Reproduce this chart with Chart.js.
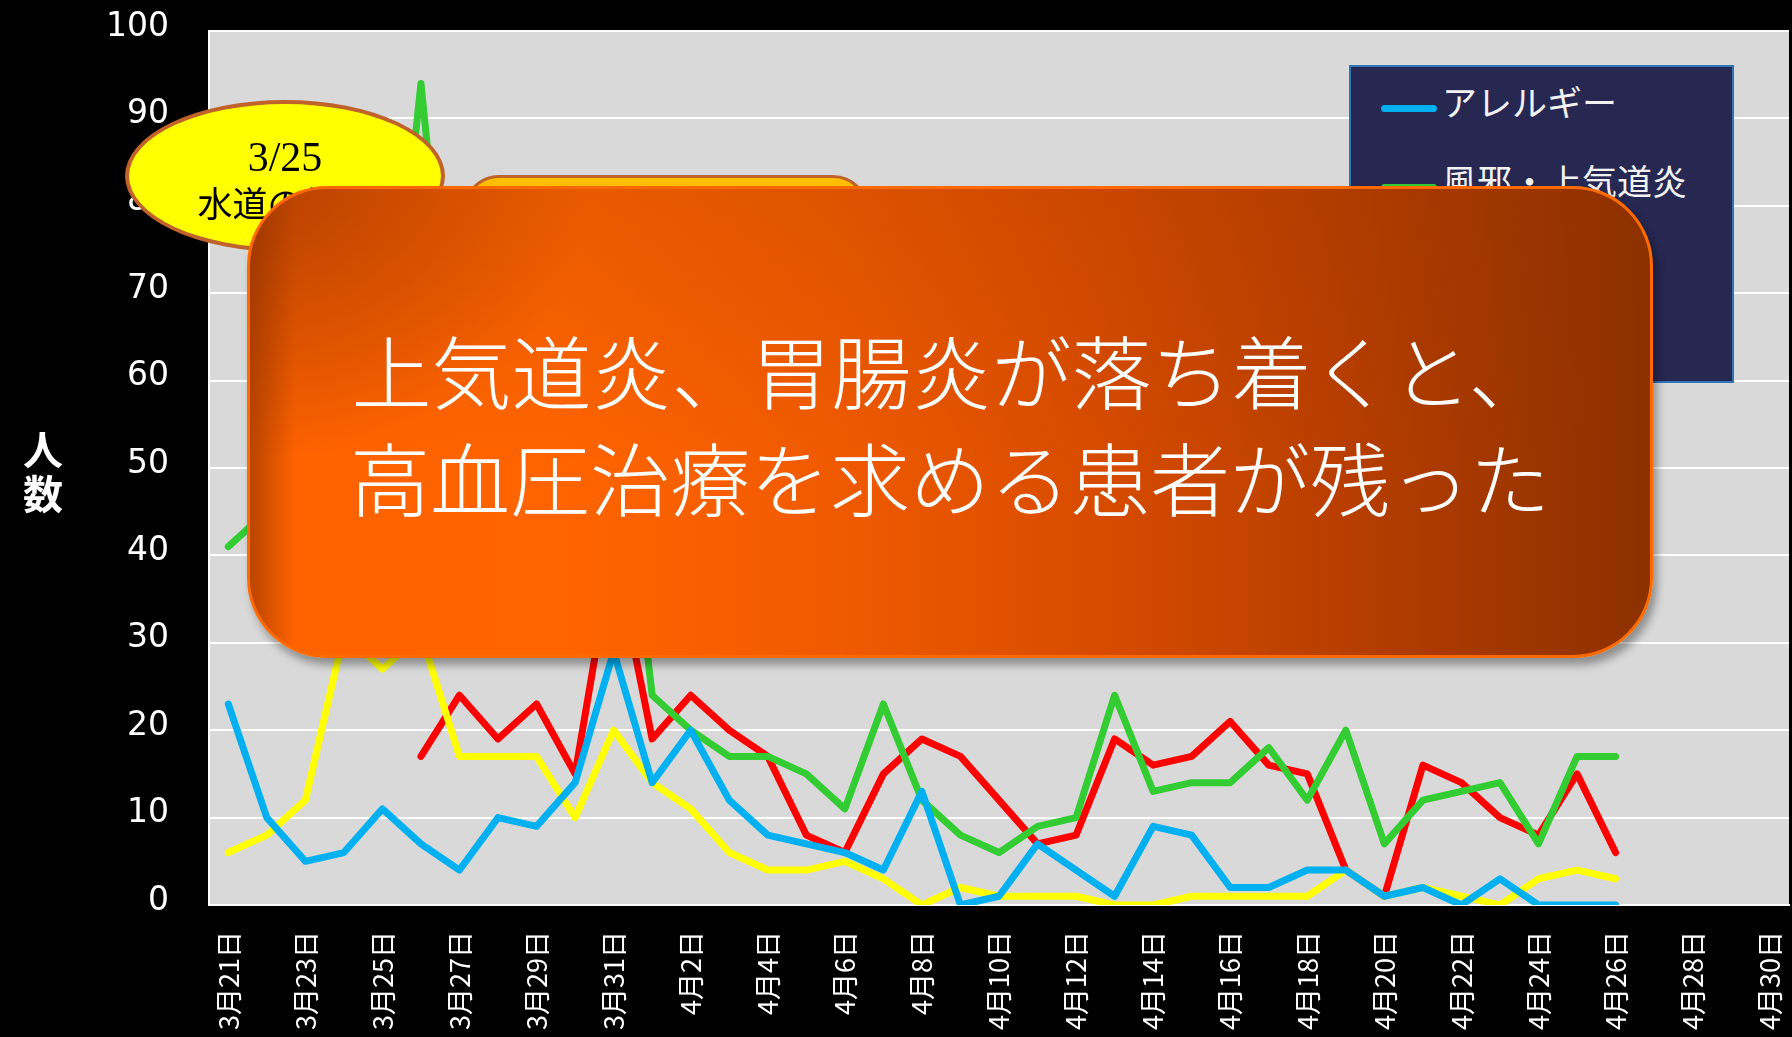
<!DOCTYPE html>
<html lang="ja">
<head>
<meta charset="utf-8">
<script src="https://cdn.jsdelivr.net/npm/chart.js"></script>
<style>
    html, body { margin: 0; padding: 0; background: #000; }
    #tela { position: relative; width: 1792px; height: 1037px; overflow: hidden; background: #000; }
    #meuGrafico { position: absolute; left: 0; top: 0; }

    .tituloY { position: absolute; left: 17px; top: 426px; width: 52px; color: #fff;
        font: bold 40px "Noto Sans CJK JP"; line-height: 44px; text-align: center; }

    #legenda { position: absolute; left: 1349px; top: 65px; width: 385px; height: 318px;
        box-sizing: border-box; background: #262852; border: 2px solid #2e75b6; }
    .item { position: absolute; left: 30px; height: 44px; color: #f2f2f2;
        font: 35px "Noto Sans CJK JP"; line-height: 44px; white-space: nowrap; }
    .item i { display: inline-block; width: 56px; height: 7px; border-radius: 4px;
        margin-right: 5px; vertical-align: middle; position: relative; top: 2px; }

    #balao { position: absolute; left: 125px; top: 100px; width: 320px; height: 152px;
        box-sizing: border-box; border: 4px solid #c0622b; border-radius: 50%; background: #ffff00; }
    #balao div { position: absolute; left: 0; width: 100%; text-align: center; color: #000; }
    #balao .data { top: 30px; font: 42px "Liberation Serif"; line-height: 46px; }
    #balao .texto { top: 78px; font: 35px "Noto Sans CJK JP"; line-height: 40px; }

    #caixaFundo { position: absolute; left: 463px; top: 175px; width: 406px; height: 200px;
        box-sizing: border-box; border: 3px solid #c0622b; border-radius: 36px;
        background: linear-gradient(#ffc000, #ff9000); }

    #caixa { position: absolute; left: 247px; top: 186px; width: 1406px; height: 472px;
        box-sizing: border-box; border: 3px solid #ff6a00; border-radius: 80px;
        box-shadow: 4px 7px 9px rgba(0,0,0,0.35);
        background:
            radial-gradient(ellipse 340px 270px at 0% 0%, rgba(140,45,0,0.55), rgba(140,45,0,0) 100%),
            linear-gradient(to right, rgba(120,40,0,0.5) 0px, rgba(120,40,0,0) 45px),
            linear-gradient(to bottom, rgba(140,50,0,0.18) 0%, rgba(140,50,0,0) 60%),
            linear-gradient(to right, #ff6200 0%, #ff6400 22%, #f05a00 42%, #d84c00 60%, #b83e00 78%, #8c3000 100%);
        display: flex; flex-direction: column; align-items: center; justify-content: center;
        color: #fff; font: 300 80px "Noto Sans CJK JP"; line-height: 107px; }
</style>
</head>
<body>
<div id="tela">
    <canvas id="meuGrafico" width="1792" height="1037"></canvas>
    <div class="tituloY">人<br>数</div>
    <div id="legenda"></div>
    <div id="balao"><div class="data">3/25</div><div class="texto">水道の復旧</div></div>
    <div id="caixaFundo"></div>
    <div id="caixa">
        <div>上気道炎、胃腸炎が落ち着くと、</div>
        <div>高血圧治療を求める患者が残った</div>
    </div>
</div>
<script>
// dias (3/21 ~ 4/30)
const dias = ['3月21日', '3月22日', '3月23日', '3月24日', '3月25日', '3月26日', '3月27日', '3月28日',
    '3月29日', '3月30日', '3月31日', '4月1日', '4月2日', '4月3日', '4月4日', '4月5日', '4月6日',
    '4月7日', '4月8日', '4月9日', '4月10日', '4月11日', '4月12日', '4月13日', '4月14日', '4月15日',
    '4月16日', '4月17日', '4月18日', '4月19日', '4月20日', '4月21日', '4月22日', '4月23日',
    '4月24日', '4月25日', '4月26日', '4月27日', '4月28日', '4月29日', '4月30日'];

// pacientes por dia
const alergia = [23, 10, 5, 6, 11, 7, 4, 10, 9, 14, 29, 14, 20, 12, 8, 7, 6, 4, 13, 0, 1, 7, 4, 1,
    9, 8, 2, 2, 4, 4, 1, 2, 0, 3, 0, 0, 0];
const resfriado = [41, 45, 50, 55, 52, 94, 50, 48, 45, 42, 62, 24, 20, 17, 17, 15, 11, 23, 12, 8, 6,
    9, 10, 24, 13, 14, 14, 18, 12, 20, 7, 12, 13, 14, 7, 17, 17];
const gastro = [6, 8, 12, 31, 27, 31, 17, 17, 17, 10, 20, 14, 11, 6, 4, 4, 5, 3, 0, 2, 1, 1, 1, 0,
    0, 1, 1, 1, 1, 4, 1, 2, 1, 0, 3, 4, 3];
const pressao = [null, null, null, null, null, 17, 24, 19, 23, 15, 41, 19, 24, 20, 17, 8, 6, 15, 19,
    17, 12, 7, 8, 19, 16, 17, 21, 16, 15, 4, 1, 16, 14, 10, 8, 15, 6];

const nomes = ['アレルギー', '風邪・上気道炎', '胃腸炎', '高血圧'];
const cores = ['#00b0f0', '#33cc33', '#ffff00', '#ff0000'];
const valores = [alergia, resfriado, gastro, pressao];

// legenda
const legenda = document.getElementById('legenda');
nomes.forEach((nome, i) => {
    const item = document.createElement('div');
    item.className = 'item';
    item.style.top = (12 + i * 79) + 'px';
    item.innerHTML = '<i style="background:' + cores[i] + '"></i>' + nome;
    legenda.appendChild(item);
});

// fundo cinza da area do grafico
const fundoPlot = {
    id: 'fundoPlot',
    beforeDraw(chart) {
        const { ctx, chartArea: a } = chart;
        ctx.save();
        ctx.fillStyle = '#d9d9d9';
        ctx.fillRect(a.left, a.top, a.right - a.left, a.bottom - a.top);
        ctx.restore();
    }
};

// tira o espaco extra que o Chart.js reserva para os rotulos
function semPadding(s) {
    s.paddingTop = 0;
    s.paddingBottom = 0;
    s.paddingLeft = 0;
    s.paddingRight = 0;
}

//Grafico
const ctx = document.getElementById('meuGrafico');
new Chart(ctx, {
    type: 'line',
    data: {
        labels: dias,
        datasets: valores.map((v, i) => ({
            label: nomes[i],
            data: v,
            borderColor: cores[i],
            backgroundColor: cores[i],
            borderWidth: 7,
            borderCapStyle: 'round',
            borderJoinStyle: 'round',
            pointRadius: 0,
            tension: 0
        }))
    },
    options: {
        responsive: false,
        animation: false,
        layout: { padding: { top: 31, right: 3, left: 0, bottom: 0 } },
        plugins: {
            legend: { display: false },
            tooltip: { enabled: false }
        },
        scales: {
            x: {
                offset: true,
                afterFit(s) { s.height = 132; semPadding(s); },
                grid: { display: false, drawTicks: false },
                border: { display: true, color: '#ffffff', width: 2 },
                ticks: {
                    autoSkip: false,
                    minRotation: 90,
                    maxRotation: 90,
                    padding: 26,
                    color: '#ffffff',
                    font: { family: 'Noto Sans CJK JP', size: 27 },
                    callback: function (val, idx) {
                        return idx % 2 === 0 ? this.getLabelForValue(val) : '';
                    }
                }
            },
            y: {
                min: 0,
                max: 100,
                afterFit(s) { s.width = 209; semPadding(s); },
                grid: { color: '#ffffff', lineWidth: 2, drawTicks: false },
                border: { display: true, color: '#ffffff', width: 2 },
                ticks: {
                    stepSize: 10,
                    padding: 40,
                    labelOffset: -4,
                    color: '#ffffff',
                    font: { family: 'DejaVu Sans', size: 33 }
                }
            }
        }
    },
    plugins: [fundoPlot]
});
</script>
</body>
</html>
